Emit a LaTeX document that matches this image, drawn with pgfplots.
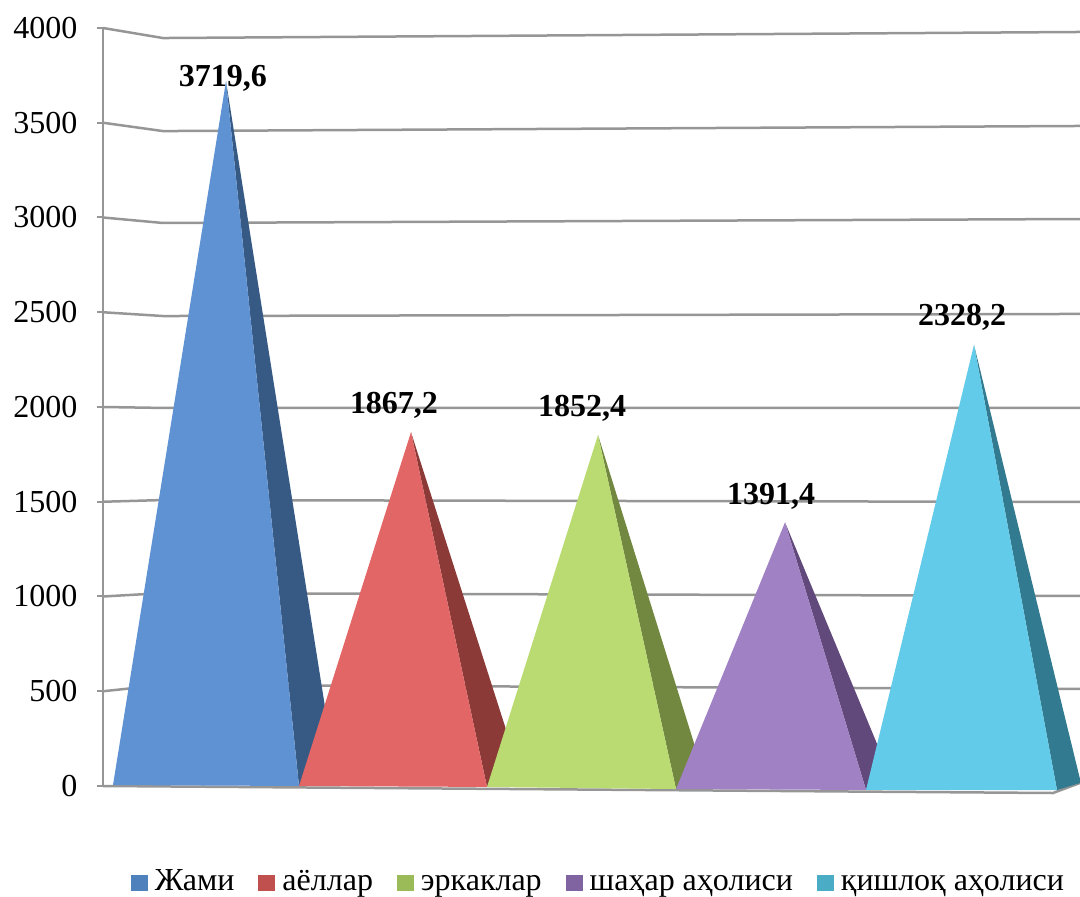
\documentclass[border=0pt]{standalone}
\usepackage{fontspec}
\setmainfont{Liberation Serif}
\usepackage{pgfplots}
\pgfplotsset{compat=1.18}
\definecolor{axgray}{HTML}{969696}
\definecolor{bluef}{HTML}{5E92D2}
\definecolor{blues}{HTML}{375A85}
\definecolor{redf}{HTML}{E26665}
\definecolor{reds}{HTML}{8B3A38}
\definecolor{greenf}{HTML}{BADB72}
\definecolor{greens}{HTML}{72873F}
\definecolor{purpf}{HTML}{A081C4}
\definecolor{purps}{HTML}{61497B}
\definecolor{cyanf}{HTML}{62CBE9}
\definecolor{cyans}{HTML}{327A8F}
\begin{document}
\begin{tikzpicture}
\path[use as bounding box] (-103pt,-111pt) rectangle (977pt,786pt);
\begin{axis}[
    scale only axis,
    width=977pt, height=758pt,
    xmin=103, xmax=1080,
    ymin=0, ymax=4000,
    clip=false,
    hide x axis,
    axis y line*=left,
    axis line style={axgray, line width=2.5pt, -},
    ytick={0,500,...,4000},
    major tick length=6pt,
    tick align=outside,
    y tick style={axgray, line width=2pt},
    yticklabel style={/pgf/number format/assume math mode=true, /pgf/number format/1000 sep={}, font=\fontsize{32}{36}\selectfont, xshift=-16pt},
    legend columns=5,
    legend cell align=left,
    legend image code/.code={\fill[#1, draw=none] (0pt,-8pt) rectangle (17pt,8pt); \path[draw=none, fill=none] (0pt,0pt) -- (22pt,0pt);},
    legend style={draw=none, fill=none, at={(axis cs:1066,-606)}, anchor=south east, font=\fontsize{32}{36}\selectfont,
        inner sep=0pt, outer sep=0pt, nodes={text height=24pt, text depth=8pt},
        /tikz/every even column/.append style={column sep=22pt}},
]
% grid lines, side wall then back wall
\addplot[axgray, line width=2.5pt, forget plot] coordinates {(103,4000)(163,3947)(1080,3979)};
\addplot[axgray, line width=2.5pt, forget plot] coordinates {(103,3500)(163,3456)(1080,3483)};
\addplot[axgray, line width=2.5pt, forget plot] coordinates {(103,3000)(163,2971)(1080,2992)};
\addplot[axgray, line width=2.5pt, forget plot] coordinates {(103,2500)(163,2480)(1080,2491)};
\addplot[axgray, line width=2.5pt, forget plot] coordinates {(103,2000)(163,1995)(1080,1995)};
\addplot[axgray, line width=2.5pt, forget plot] coordinates {(103,1500)(163,1509)(1080,1499)};
\addplot[axgray, line width=2.5pt, forget plot] coordinates {(103,1000)(163,1018)(1080,1003)};
\addplot[axgray, line width=2.5pt, forget plot] coordinates {(103,500)(163,533)(1080,512)};
\addplot[axgray, line width=2.5pt, forget plot] coordinates {(103,0)(1053,-37)(1080,16)};
% pyramids: side face first, front face over it
\addplot[fill=blues, draw=none, forget plot] coordinates {(226,3719.6)(299,0)(335,84)} -- cycle;
\addplot[fill=bluef, draw=none, forget plot] coordinates {(113,5)(299,0)(226,3719.6)} -- cycle;
\addplot[fill=reds, draw=none, forget plot] coordinates {(411,1867.2)(487,-5)(519,84)} -- cycle;
\addplot[fill=redf, draw=none, forget plot] coordinates {(299,0)(487,-5)(411,1867.2)} -- cycle;
\addplot[fill=greens, draw=none, forget plot] coordinates {(598,1852.4)(676,-16)(703,74)} -- cycle;
\addplot[fill=greenf, draw=none, forget plot] coordinates {(487,-5)(676,-16)(598,1852.4)} -- cycle;
\addplot[fill=purps, draw=none, forget plot] coordinates {(785,1391.4)(866,-21)(890,58)} -- cycle;
\addplot[fill=purpf, draw=none, forget plot] coordinates {(676,-16)(866,-21)(785,1391.4)} -- cycle;
\addplot[fill=cyans, draw=none, forget plot] coordinates {(974,2328.2)(1057,-22)(1080,16)(1080,37)} -- cycle;
\addplot[fill=cyanf, draw=none, forget plot] coordinates {(866,-21)(1057,-22)(974,2328.2)} -- cycle;
% data labels
\node[font=\bfseries\fontsize{32}{36}\selectfont] at (axis cs:223,3735) {3719,6};
\node[font=\bfseries\fontsize{32}{36}\selectfont] at (axis cs:394,2007) {1867,2};
\node[font=\bfseries\fontsize{32}{36}\selectfont] at (axis cs:582,1995) {1852,4};
\node[font=\bfseries\fontsize{32}{36}\selectfont] at (axis cs:771,1527) {1391,4};
\node[font=\bfseries\fontsize{32}{36}\selectfont] at (axis cs:962,2473) {2328,2};
% legend
\addlegendimage{fill={rgb,255:red,79;green,129;blue,189}}
\addlegendentry{Жами}
\addlegendimage{fill={rgb,255:red,192;green,80;blue,77}}
\addlegendentry{аёллар}
\addlegendimage{fill={rgb,255:red,155;green,187;blue,89}}
\addlegendentry{эркаклар}
\addlegendimage{fill={rgb,255:red,128;green,100;blue,162}}
\addlegendentry{шаҳар аҳолиси}
\addlegendimage{fill={rgb,255:red,75;green,172;blue,198}}
\addlegendentry{қишлоқ аҳолиси}
\end{axis}
\end{tikzpicture}
\end{document}
